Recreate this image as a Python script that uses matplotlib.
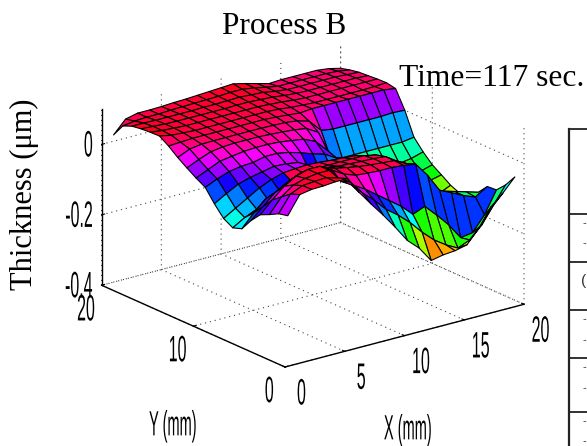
import numpy as np
import matplotlib
matplotlib.use("Agg")
import matplotlib.pyplot as plt
from matplotlib.lines import Line2D
from matplotlib.colors import Normalize
from matplotlib.patheffects import AbstractPathEffect
from matplotlib.transforms import Affine2D
from mpl_toolkits.mplot3d import proj3d

x_mm = list(range(1, 21))
y_mm = list(range(1, 21))
x_ticks = [0, 5, 10, 15, 20]
y_ticks = [0, 10, 20]
z_ticks = [-0.4, -0.2, 0]
z_tick_labels = ["-0.4", "-0.2", "0"]
title = "Process B"
time_note = "Time=117 sec."

# thickness rows, y = 1 .. 20, each x = 1 .. 20
y01 = [.009,.060,.066,.067,.070,.070,.021,-.021,-.061,-.104,-.150,-.181,-.225,-.218,-.215,-.207,-.168,-.117,-.087,-.050]
y02 = [.003,.050,.065,.068,.070,.060,.040,.000,-.030,-.065,-.090,-.120,-.156,-.187,-.210,-.228,-.214,-.180,-.132,-.084]
y03 = [-.011,.030,.055,.065,.070,.070,.030,.010,-.010,-.035,-.060,-.085,-.117,-.103,-.137,-.174,-.219,-.214,-.172,-.110]
y04 = [-.023,.010,.040,.060,.070,.070,.050,.030,.018,.015,.013,.013,.010,.005,-.036,-.087,-.103,-.120,-.133,-.112]
y05 = [-.051,-.020,.010,.030,.045,.050,.045,.035,.028,.022,.018,.015,.012,-.005,-.040,-.090,-.110,-.120,-.130,-.140]
y06 = [-.086,-.050,-.019,-.005,.015,.030,.030,.025,.020,.018,.016,.015,.012,-.010,-.090,-.170,-.180,-.180,-.170,-.155]
y07 = [-.095,-.075,-.060,-.045,-.030,-.010,.005,.010,.012,.012,.012,.012,.005,-.030,-.190,-.215,-.210,-.200,-.185,-.166]
y08 = [-.080,-.060,-.040,-.020,-.005,.005,.008,.010,.008,.005,.003,.000,-.010,-.060,-.180,-.195,-.190,-.180,-.170,-.155]
y09 = [-.050,-.030,-.012,-.002,.005,.012,.010,.005,-.030,-.050,-.060,-.080,-.120,-.150,-.155,-.155,-.155,-.150,-.145,-.137]
y10 = [-.015,.000,.012,.018,.020,.028,.028,.022,.012,.000,-.010,-.030,-.090,-.140,-.140,-.140,-.140,-.140,-.130,-.120]
y11 = [.000,.015,.030,.035,.040,.042,.042,.040,.035,.030,.015,-.020,-.075,-.110,-.110,-.110,-.110,-.110,-.105,-.095]
y12 = [.017,.032,.045,.050,.052,.052,.052,.050,.048,.045,.040,.020,-.060,-.070,-.070,-.070,-.070,-.070,-.070,-.065]
y13 = [.035,.050,.055,.056,.056,.056,.056,.056,.055,.054,.050,.040,.005,.000,.000,.000,.000,.000,.002,.000]
y14 = [.056,.058,.060,.060,.060,.060,.060,.060,.060,.058,.055,.052,.055,.055,.055,.055,.055,.055,.055,.050]
y15 = [.073,.066,.064,.062,.062,.062,.062,.062,.062,.062,.060,.056,.054,.052,.052,.052,.052,.052,.053,.055]
y16 = [.072,.068,.066,.064,.064,.064,.064,.064,.064,.064,.062,.060,.056,.054,.054,.054,.054,.054,.054,.054]
y17 = [.070,.068,.066,.065,.065,.065,.065,.065,.066,.066,.064,.062,.058,.055,.054,.054,.054,.054,.054,.052]
y18 = [.066,.066,.065,.065,.065,.065,.066,.066,.067,.068,.066,.064,.058,.054,.054,.054,.054,.054,.052,.050]
y19 = [.055,.060,.062,.062,.064,.065,.066,.067,.068,.070,.070,.065,.058,.052,.052,.052,.052,.052,.050,.045]
y20 = [.018,.054,.062,.062,.063,.065,.066,.068,.070,.072,.074,.066,.057,.048,.050,.050,.050,.050,.046,.038]
rows = [y01,y02,y03,y04,y05,y06,y07,y08,y09,y10,y11,y12,y13,y14,y15,y16,y17,y18,y19,y20]

# colour data that departs from the height
ridge_rows = [3, 4, 5, 6]
ridge_cols = list(range(5, 14))
ridge_value = 0.060
colour_y2 = [.030,.010,-.020,-.045,-.070,-.090,-.150,-.160,-.160,-.150,-.140,-.130,-.120,-.085]
colour_y3 = [.050,.040,.030,.015,.000,-.020,-.035,-.050,-.045,-.045,-.045,-.045,-.045,-.045]
colour_first_col = 6

W, H = 587, 446
plt.rcParams["font.family"] = ["Liberation Sans", "DejaVu Sans"]

class VStretch(AbstractPathEffect):
    """Draws the glyphs taller than wide, as in the squeezed tick labels."""
    def __init__(self, s, up=0):
        self.s = s
        self.up = up
    def draw_path(self, renderer, gc, tpath, affine, rgbFace=None):
        t = Affine2D().translate(0, -36).scale(1, self.s).translate(0, 36 + self.up)
        renderer.draw_path(gc, tpath, t + affine, rgbFace)

fig = plt.figure(figsize=(W/100, H/100), dpi=100)
ax = fig.add_axes([0, 0, 1, 1], projection="3d", proj_type="ortho")
ax.patch.set_alpha(0)
ax.view_init(elev=20, azim=-127.5)
ax.set_box_aspect((1, 1, 0.622), zoom=1.0)

X, Y = np.meshgrid(x_mm, y_mm)
Z = np.array(rows)
norm = Normalize(vmin=-0.256, vmax=0.072, clip=True)
C = Z.copy()
for r in ridge_rows:
    for c in ridge_cols:
        C[r, c] = ridge_value
C[1, colour_first_col:] = colour_y2
C[2, colour_first_col:] = colour_y3
fc = plt.get_cmap("hsv")(norm(C))
ax.plot_surface(X, Y, Z, facecolors=fc, edgecolor="k", linewidth=0.8,
                rstride=1, cstride=1, shade=False, antialiased=True)

ax.set_xlim(0, 20); ax.set_ylim(0, 20); ax.set_zlim(-0.4, 0.1)
ax.set_xticks(x_ticks); ax.set_yticks(y_ticks); ax.set_zticks(z_ticks)
ax.set_zticklabels(z_tick_labels)
for a in (ax.xaxis, ax.yaxis, ax.zaxis):
    a.set_pane_color((1, 1, 1, 0))
    a.pane.set_edgecolor((1, 1, 1, 0))
    a._axinfo["grid"].update(color="#444444", linestyle=(0, (1, 3.5)), linewidth=0.8)
    a.line.set_color("k"); a.line.set_linewidth(1.0)
    a._axinfo["tick"]["inward_factor"] = 0.0
    a._axinfo["tick"]["outward_factor"] = 0.15
    a._axinfo["tick"]["linewidth"] = {True: 0.8, False: 0.5}
ax.tick_params(axis="x", labelsize=11.5, pad=7)
ax.tick_params(axis="y", labelsize=11.5, pad=3)
ax.tick_params(axis="z", labelsize=11.5, pad=-4.5)
for lab in ax.get_xticklabels():
    lab.set_path_effects([VStretch(2.3, up=32)])
for lab in ax.get_yticklabels():
    lab.set_path_effects([VStretch(2.3, up=0)])
for lab in ax.get_zticklabels():
    lab.set_path_effects([VStretch(2.3, up=44)])
    lab.set_ha("right")

# scale and place the box so that its front corner and edges fall as in the chart
target_origin = (285.0, H - 367.0)
target_len = 239.0
def screen(px, py, pz):
    xp, yp, _ = proj3d.proj_transform(px, py, pz, ax.get_proj())
    return ax.transData.transform((xp, yp))
zoom = 1.0
fig.canvas.draw()
for _ in range(4):
    o = screen(0, 0, -0.4); e = screen(20, 0, -0.4)
    zoom *= target_len / (e[0] - o[0])
    ax.set_box_aspect((1, 1, 0.622), zoom=zoom)
    fig.canvas.draw()
o = screen(0, 0, -0.4)
dx, dy = (target_origin[0]-o[0])/W, (target_origin[1]-o[1])/H
ax.set_position([dx, dy, 1, 1])

def fx(v): return v / W
def fy(v): return 1 - v / H

fig.text(fx(284), fy(26), title, family="Liberation Serif", fontsize=22.5, ha="center", va="center")
fig.text(fx(399), fy(78), time_note, family="Liberation Serif", fontsize=22.7, ha="left", va="center")
fig.text(fx(24), fy(194), "Thickness (\u03bcm)", family="Liberation Serif", fontsize=22,
         rotation=90, ha="center", va="center")
fig.text(fx(173), fy(424), "Y (mm)", fontsize=10.5, ha="center", va="center",
         path_effects=[VStretch(2.4)])
fig.text(fx(408), fy(428), "X (mm)", fontsize=10.5, ha="center", va="center",
         path_effects=[VStretch(2.4)])

# the table cut off at the right-hand edge
table_x = 569
table_rows = [129, 214, 262, 310, 358, 412]
fig.add_artist(Line2D([fx(table_x)]*2, [fy(129), fy(446)], color="#222222", lw=1.6))
for r in table_rows:
    fig.add_artist(Line2D([fx(table_x), 1], [fy(r)]*2, color="#222222", lw=1.3))
for r in [223, 243, 319, 340, 367, 388, 421, 441]:
    fig.text(fx(586), fy(r), "-", fontsize=8, ha="right", va="center", color="#333333")
fig.text(fx(586.5), fy(281), "(", fontsize=11, ha="right", va="center", color="#333333")

fig.savefig("out.png", dpi=100)
